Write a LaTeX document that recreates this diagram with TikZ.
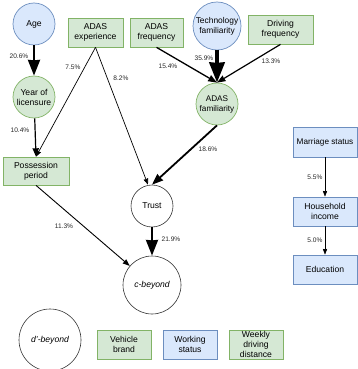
\documentclass[tikz,border=0pt]{standalone}
\usepackage{fontspec}
\setmainfont{Liberation Sans}
\usetikzlibrary{arrows.meta}
\definecolor{bluefill}{HTML}{DAE8FC}
\definecolor{bluedraw}{HTML}{6C8EBF}
\definecolor{greenfill}{HTML}{D5E8D4}
\definecolor{greendraw}{HTML}{82B366}
\tikzset{
  base/.style={inner sep=0pt, align=center, font=\fontsize{8.6}{10}\selectfont, line width=0.7pt},
  bluebox/.style={base, rectangle, fill=bluefill, draw=bluedraw},
  greenbox/.style={base, rectangle, fill=greenfill, draw=greendraw},
  bluecirc/.style={base, circle, fill=bluefill, draw=bluedraw},
  greencirc/.style={base, circle, fill=greenfill, draw=greendraw},
  whitecirc/.style={base, circle, fill=white, draw=black!80, line width=0.6pt},
  pct/.style={font=\fontsize{6.6}{7}\selectfont, inner sep=0.5pt, text=black!85},
  link/.style={-{Stealth[inset=0.3pt]}, draw=black},
}
\begin{document}
\begin{tikzpicture}[x=1pt, y=-1pt]
\useasboundingbox (0,0) rectangle (357,369);

% factor nodes
\node[bluecirc, minimum size=42pt] (age) at (34,24) {Age};
\node[greencirc, minimum size=42pt] (year) at (34,97) {Year of\\licensure};
\node[greenbox, minimum width=55pt, minimum height=29pt] (adasexp) at (95.5,32.5) {ADAS\\experience};
\node[greenbox, minimum width=53pt, minimum height=29pt] (adasfreq) at (156.5,32.5) {ADAS\\frequency};
\node[bluecirc, minimum size=48pt, font=\fontsize{8.4}{10}\selectfont] (tech) at (217,26) {Technology\\familiarity};
\node[greenbox, minimum width=65pt, minimum height=29pt] (drive) at (280.5,29.5) {Driving\\frequency};
\node[greencirc, minimum size=42pt, font=\fontsize{8.2}{10}\selectfont] (adasfam) at (217,104) {ADAS\\familiarity};
\node[greenbox, minimum width=66pt, minimum height=28pt] (poss) at (36,171) {Possession\\period};
\node[whitecirc, minimum size=42pt] (trust) at (152,206) {Trust};
\node[whitecirc, minimum size=58pt] (cbeyond) at (152,285) {\itshape c-beyond};
\node[whitecirc, minimum size=62pt] (dbeyond) at (50,340) {\itshape d'-beyond};

\node[bluebox, minimum width=64pt, minimum height=30pt, font=\fontsize{8.2}{10}\selectfont] (marriage) at (325,142) {Marriage status};
\node[bluebox, minimum width=64pt, minimum height=29pt] (income) at (325,211.5) {Household\\income};
\node[bluebox, minimum width=64pt, minimum height=29pt] (edu) at (325,269.5) {Education};

\node[greenbox, minimum width=54pt, minimum height=29pt] (brand) at (124,344.5) {Vehicle\\brand};
\node[bluebox, minimum width=54pt, minimum height=29pt] (work) at (190,344.5) {Working\\status};
\node[greenbox, minimum width=54pt, minimum height=29pt, font=\fontsize{8.6}{10.2}\selectfont] (weekly) at (256,344.5) {Weekly\\driving\\distance};

% effects
\draw[link, line width=2.8pt] (age) -- (year);
\draw[link, line width=1.2pt] (year) -- (poss.north);
\draw[link, line width=0.7pt] (adasexp.south) -- (poss.north);
\draw[link, line width=0.7pt] (adasexp.south) -- ([xshift=-4pt]trust.north);
\draw[link, line width=1.3pt] (adasfreq.south) -- (adasfam.north);
\draw[link, line width=3.8pt] (tech) -- (adasfam.north);
\draw[link, line width=1.2pt] (drive.south) -- (adasfam.north);
\draw[link, line width=1.8pt] (adasfam.south) -- (trust.north);
\draw[link, line width=0.9pt] (poss.south) -- (cbeyond);
\draw[link, line width=2.8pt] (trust) -- (cbeyond);
\draw[link, line width=0.6pt] (marriage) -- (income);
\draw[link, line width=0.6pt] (income) -- (edu);

% effect sizes
\node[pct] (p1) at (19,56) {20.6\%};
\node[pct] (p2) at (73,67) {7.5\%};
\node[pct] (p3) at (121,78) {8.2\%};
\node[pct] (p4) at (168,66) {15.4\%};
\node[pct] (p5) at (204,58) {35.9\%};
\node[pct] (p6) at (271,61) {13.3\%};
\node[pct] (p7) at (20,130) {10.4\%};
\node[pct] (p8) at (208,149) {18.6\%};
\node[pct] (p9) at (64,226) {11.3\%};
\node[pct] (p10) at (171,239) {21.9\%};
\node[pct] (p11) at (315,177) {5.5\%};
\node[pct] (p12) at (315,240) {5.0\%};
\end{tikzpicture}
\end{document}
